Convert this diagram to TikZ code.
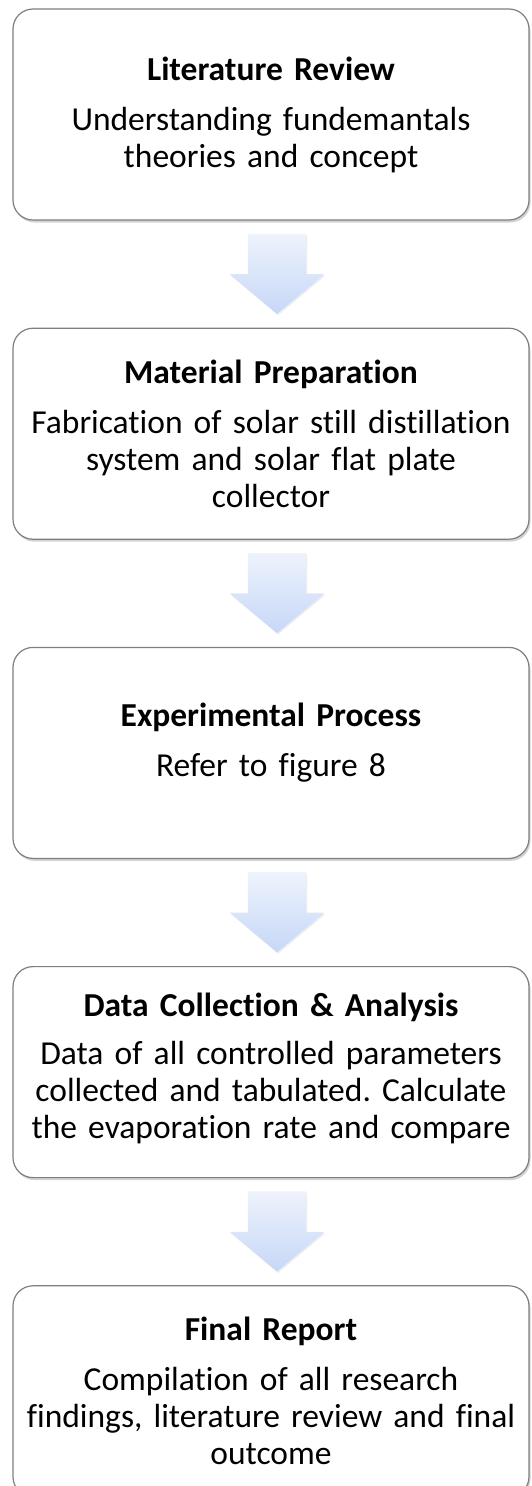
\documentclass[tikz,border=0pt]{standalone}
\usepackage{fontspec}
\setmainfont{Carlito}[Ligatures={NoCommon,NoRare}]
\usetikzlibrary{positioning,calc,shapes.arrows,shadows}
\definecolor{arrowtop}{HTML}{EEF3FD}
\definecolor{arrowbot}{HTML}{C6D7F7}
\definecolor{boxline}{HTML}{7F7F7F}
\frenchspacing

\begin{document}
\begin{tikzpicture}
            [x=1pt,y=1pt,
             stage/.style={draw=boxline,line width=1.2pt,rounded corners=20pt,fill=white,
               minimum width=516pt,minimum height=211pt,text width=506pt,align=center,
               font=\fontsize{33.5}{37}\selectfont,
               drop shadow={shadow xshift=1.5pt,shadow yshift=-2.5pt,opacity=0.35}},
             downarrow/.style={single arrow,shape border rotate=270,draw=none,anchor=tail,
               top color=arrowtop,bottom color=arrowbot,inner xsep=29pt,inner ysep=0pt,
               minimum height=80pt,minimum width=94pt,
               single arrow head extend=18pt,single arrow tip angle=100,
               drop shadow={shadow xshift=1pt,shadow yshift=-1.5pt,opacity=0.15}}]
            \useasboundingbox (0,0) rectangle (532,-1486);
            \node[stage] (lit) at (271,-114.5) {\textbf{Literature Review}\\[13pt]
              Understanding fundemantals\\ theories and concept};
            \node[stage,below=107pt of lit] (mat) {\textbf{Material Preparation}\\[13pt]
              Fabrication of solar still distillation\\ system and solar flat plate\\ collector};
            \node[stage,below=107pt of mat] (exp) {\textbf{Experimental Process}\\[13pt]
              Refer to figure 8\\[-11pt]\mbox{}};
            \node[stage,below=107pt of exp] (data) {\textbf{Data Collection \& Analysis}\\[11pt]
              Data of all controlled parameters\\ collected and tabulated. Calculate\\ the evaporation rate and compare\\[-24pt]\mbox{}};
            \node[stage,below=107pt of data] (rep) {\textbf{Final Report}\\[13pt]
              Compilation of all research\\ findings, literature review and final\\ outcome};
            %
            \node[downarrow] (a1) at ([xshift=6pt,yshift=-13pt]lit.south) {};
            \node[downarrow] (a2) at ([xshift=6pt,yshift=-13pt]mat.south) {};
            \node[downarrow] (a3) at ([xshift=6pt,yshift=-13pt]exp.south) {};
            \node[downarrow] (a4) at ([xshift=6pt,yshift=-13pt]data.south) {};
        \end{tikzpicture}
\end{document}
